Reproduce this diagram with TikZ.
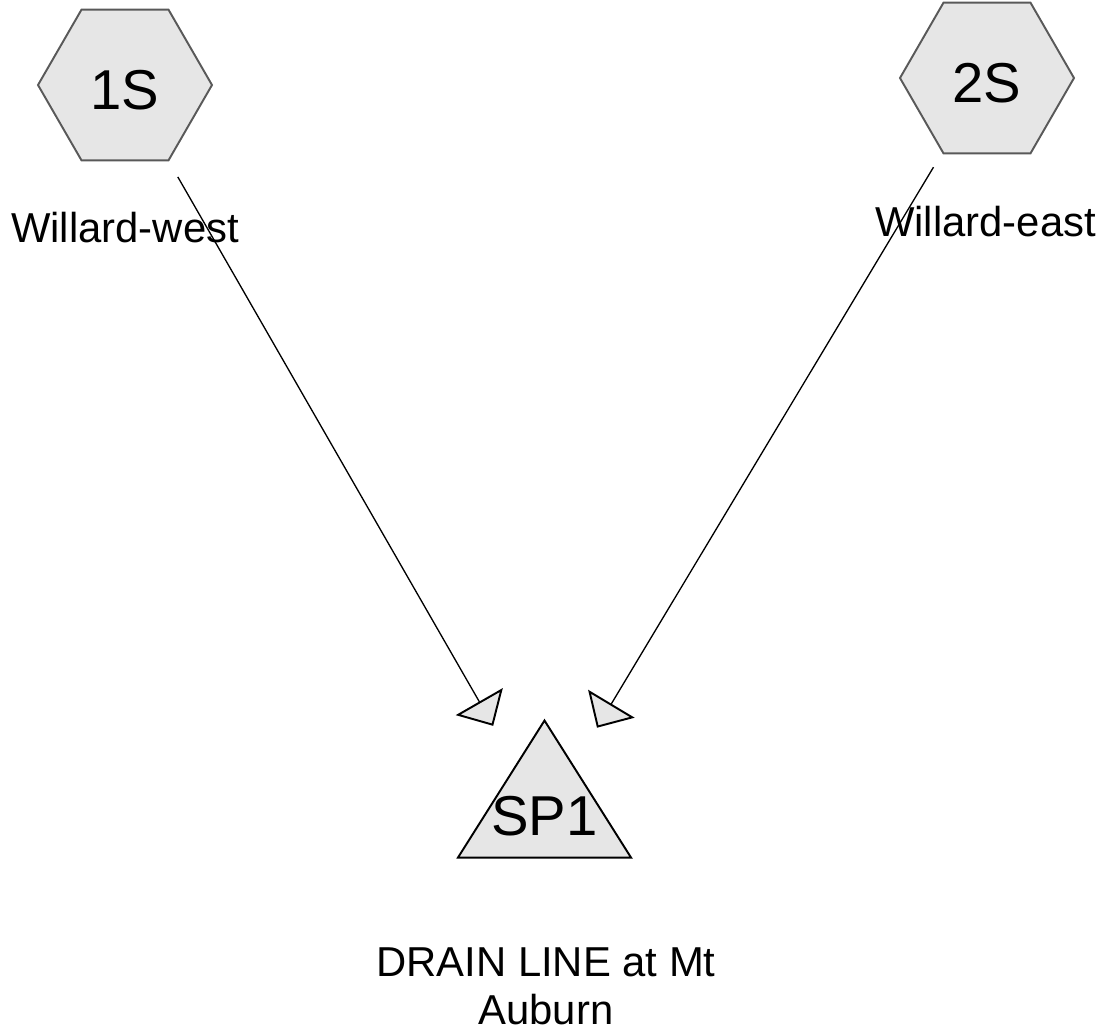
\documentclass[tikz,border=0pt]{standalone}
\usepackage{fontspec}
\setmainfont{Liberation Sans}
\usepackage{xcolor}
\usepackage{tikz}
\usetikzlibrary{shapes.geometric, arrows.meta, positioning, calc}
\definecolor{shapefill}{HTML}{E6E6E6}
\definecolor{hexline}{HTML}{595959}
\tikzset{
  station/.style = {regular polygon, regular polygon sides=6, draw=hexline, fill=shapefill,
                    line width=1.1pt, minimum size=3.48cm, inner sep=0pt, text height=0.98cm,
                    font=\fontsize{32}{38}\selectfont},
  sink/.style    = {isosceles triangle, shape border rotate=90, isosceles triangle stretches,
                    isosceles triangle apex angle=64.5,
                    draw, fill=shapefill, line width=1.1pt, minimum width=3.46cm,
                    minimum height=2.74cm, inner xsep=-0.15cm, inner ysep=0pt, text depth=0.4cm,
                    font=\fontsize{32}{38}\selectfont},
  site/.style    = {inner sep=0pt, align=center, font=\fontsize{23.8}{27.2}\selectfont},
  flow/.style    = {line width=0.75pt,
                    -{Triangle[length=0.56cm, width=1.08cm, fill=shapefill, line width=1.1pt]}},
}
\begin{document}
\begin{tikzpicture}
  \useasboundingbox (0, 0) rectangle (22.22, -20.72);

  \node[station] (s1) at (2.5, -1.7)   {1S};
  \node[station] (s2) at (19.74, -1.56) {2S};
  \node[sink]    (sp1) at (10.89, -16.52) {SP1};
  \coordinate (sp1mid) at ($(sp1.apex)!0.69!(sp1.lower side)$);

  \node[site] (west)  at (2.5, -4.56)   {Willard-west};
  \node[site] (east)  at (19.71, -4.44) {Willard-east};
  \node[site] (drain) at (10.92, -19.72) {DRAIN LINE at Mt\\Auburn};

  \draw[flow, shorten <=2.12cm, shorten >=2.06cm] (s1.center) -- (sp1mid);
  \draw[flow, shorten <=2.08cm, shorten >=2.04cm] (s2.center) -- (sp1mid);

\end{tikzpicture}
\end{document}
